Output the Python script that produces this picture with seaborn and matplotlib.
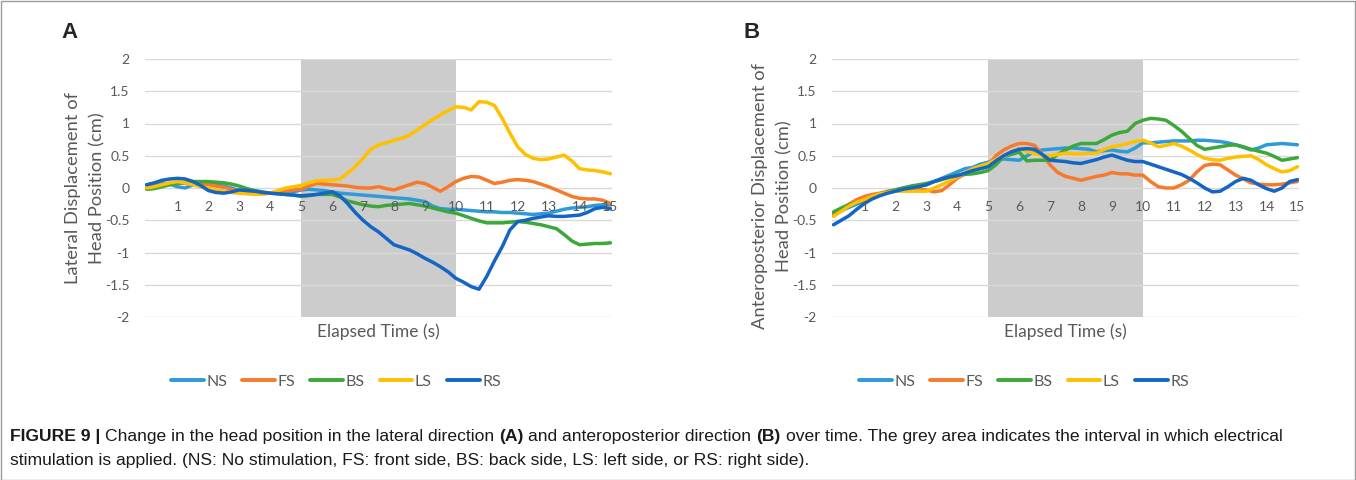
import numpy as np
import pandas as pd
import matplotlib
matplotlib.use("Agg")
import matplotlib.pyplot as plt
from matplotlib.lines import Line2D
from matplotlib.patches import Rectangle
import seaborn as sns

# ---------------- data (time grid every 0.25 s) ----------------
time_s = [i * 0.25 for i in range(61)]
conditions = ["NS", "FS", "BS", "LS", "RS"]

# Panel A: lateral displacement (cm)
NS_A = [0.05, 0.06, 0.08, 0.06, 0.02, 0.0, 0.05, 0.08, 0.08, 0.06, 0.03, 0.0,
        -0.04, -0.06, -0.07, -0.08, -0.08, -0.08, -0.08, -0.06, -0.03, -0.02, -0.03, -0.04,
        -0.06, -0.08, -0.09, -0.1, -0.11, -0.12, -0.13, -0.14, -0.15, -0.16, -0.17, -0.19,
        -0.21, -0.28, -0.32, -0.33, -0.33, -0.34, -0.35, -0.36, -0.37, -0.37, -0.38, -0.38,
        -0.39, -0.4, -0.41, -0.4, -0.39, -0.36, -0.33, -0.31, -0.3, -0.29, -0.27, -0.26, -0.26]
FS_A = [0.0, 0.02, 0.05, 0.07, 0.08, 0.07, 0.06, 0.05, 0.05, 0.03, 0.01, -0.02,
        -0.05, -0.07, -0.09, -0.09, -0.08, -0.06, -0.05, -0.03, -0.02, 0.03, 0.07, 0.06,
        0.05, 0.04, 0.03, 0.01, 0.0, 0.0, 0.02, -0.01, -0.03, 0.01, 0.05, 0.09,
        0.07, 0.01, -0.05, 0.02, 0.1, 0.15, 0.18, 0.17, 0.12, 0.07, 0.09, 0.12,
        0.13, 0.12, 0.1, 0.06, 0.02, -0.03, -0.08, -0.13, -0.16, -0.17, -0.17, -0.19, -0.24]
BS_A = [-0.02, -0.01, 0.02, 0.05, 0.07, 0.09, 0.1, 0.1, 0.1, 0.09, 0.08, 0.06,
        0.03, -0.01, -0.04, -0.06, -0.08, -0.09, -0.1, -0.11, -0.13, -0.12, -0.1, -0.1,
        -0.1, -0.14, -0.2, -0.23, -0.26, -0.28, -0.29, -0.27, -0.26, -0.25, -0.24, -0.26,
        -0.28, -0.31, -0.34, -0.37, -0.39, -0.43, -0.47, -0.51, -0.54, -0.54, -0.54, -0.53,
        -0.52, -0.53, -0.55, -0.57, -0.6, -0.63, -0.72, -0.82, -0.88, -0.87, -0.86, -0.86, -0.85]
LS_A = [0.0, 0.02, 0.05, 0.08, 0.1, 0.08, 0.05, 0.02, 0.0, -0.03, -0.05, -0.07,
        -0.08, -0.09, -0.1, -0.09, -0.08, -0.04, 0.0, 0.02, 0.04, 0.08, 0.11, 0.12,
        0.12, 0.14, 0.23, 0.33, 0.46, 0.6, 0.67, 0.7, 0.74, 0.77, 0.82, 0.9,
        0.98, 1.06, 1.13, 1.2, 1.26, 1.25, 1.21, 1.34, 1.33, 1.28, 1.08, 0.85,
        0.64, 0.52, 0.46, 0.44, 0.45, 0.48, 0.51, 0.42, 0.3, 0.28, 0.27, 0.25, 0.22]
RS_A = [0.05, 0.08, 0.12, 0.14, 0.15, 0.14, 0.1, 0.04, -0.04, -0.07, -0.08, -0.06,
        -0.03, -0.04, -0.05, -0.07, -0.08, -0.09, -0.1, -0.11, -0.12, -0.11, -0.1, -0.08,
        -0.06, -0.12, -0.24, -0.38, -0.5, -0.6, -0.68, -0.78, -0.88, -0.92, -0.96, -1.02,
        -1.09, -1.15, -1.22, -1.3, -1.4, -1.46, -1.53, -1.57, -1.37, -1.13, -0.91, -0.65,
        -0.52, -0.5, -0.47, -0.45, -0.43, -0.44, -0.44, -0.43, -0.42, -0.38, -0.32, -0.3, -0.32]

# Panel B: anteroposterior displacement (cm)
NS_B = [-0.4, -0.35, -0.3, -0.25, -0.2, -0.15, -0.1, -0.06, -0.03, 0.0, 0.02, 0.03,
        0.05, 0.1, 0.15, 0.2, 0.25, 0.3, 0.32, 0.37, 0.4, 0.43, 0.45, 0.44,
        0.43, 0.5, 0.56, 0.59, 0.6, 0.61, 0.62, 0.62, 0.61, 0.6, 0.56, 0.58,
        0.59, 0.57, 0.56, 0.62, 0.7, 0.7, 0.71, 0.72, 0.73, 0.73, 0.73, 0.74,
        0.74, 0.73, 0.72, 0.7, 0.67, 0.63, 0.59, 0.62, 0.67, 0.68, 0.69, 0.68, 0.67]
FS_B = [-0.42, -0.33, -0.25, -0.18, -0.13, -0.1, -0.08, -0.05, -0.03, -0.02, -0.02, -0.02,
        -0.03, -0.06, -0.04, 0.05, 0.15, 0.22, 0.28, 0.32, 0.36, 0.5, 0.59, 0.65,
        0.69, 0.69, 0.66, 0.52, 0.36, 0.24, 0.18, 0.15, 0.12, 0.15, 0.18, 0.2,
        0.24, 0.22, 0.22, 0.2, 0.2, 0.1, 0.02, 0.0, 0.0, 0.05, 0.12, 0.25,
        0.35, 0.37, 0.36, 0.28, 0.2, 0.14, 0.08, 0.06, 0.05, 0.05, 0.06, 0.08, 0.1]
BS_B = [-0.37, -0.31, -0.26, -0.22, -0.19, -0.14, -0.09, -0.06, -0.03, 0.0, 0.03, 0.05,
        0.07, 0.1, 0.13, 0.17, 0.2, 0.21, 0.22, 0.24, 0.27, 0.36, 0.49, 0.52,
        0.56, 0.42, 0.43, 0.43, 0.43, 0.52, 0.59, 0.65, 0.69, 0.69, 0.69, 0.75,
        0.82, 0.86, 0.88, 1.0, 1.05, 1.08, 1.07, 1.05, 0.97, 0.88, 0.77, 0.66,
        0.6, 0.62, 0.64, 0.66, 0.67, 0.64, 0.6, 0.57, 0.54, 0.49, 0.43, 0.45, 0.47]
LS_B = [-0.44, -0.36, -0.28, -0.22, -0.18, -0.13, -0.09, -0.07, -0.05, -0.05, -0.05, -0.05,
        -0.05, 0.0, 0.05, 0.11, 0.17, 0.24, 0.3, 0.34, 0.38, 0.44, 0.49, 0.56,
        0.61, 0.57, 0.53, 0.51, 0.5, 0.52, 0.54, 0.53, 0.53, 0.54, 0.54, 0.6,
        0.64, 0.66, 0.69, 0.72, 0.74, 0.7, 0.64, 0.66, 0.69, 0.65, 0.59, 0.52,
        0.46, 0.44, 0.43, 0.46, 0.48, 0.49, 0.5, 0.44, 0.36, 0.3, 0.25, 0.27, 0.33]
RS_B = [-0.57, -0.5, -0.43, -0.33, -0.24, -0.17, -0.12, -0.08, -0.05, -0.02, 0.0, 0.02,
        0.05, 0.1, 0.14, 0.17, 0.19, 0.23, 0.27, 0.3, 0.33, 0.42, 0.5, 0.56,
        0.6, 0.61, 0.6, 0.52, 0.43, 0.42, 0.41, 0.39, 0.38, 0.41, 0.44, 0.48,
        0.51, 0.47, 0.43, 0.41, 0.41, 0.37, 0.33, 0.29, 0.25, 0.21, 0.15, 0.08,
        0.0, -0.06, -0.05, 0.02, 0.1, 0.15, 0.12, 0.05, -0.01, -0.05, 0.0, 0.1, 0.13]

y_ticks = [-2, -1.5, -1, -0.5, 0, 0.5, 1, 1.5, 2]
y_tick_labels = ["-2", "-1.5", "-1", "-0.5", "0", "0.5", "1", "1.5", "2"]
x_tick_labels = [str(i) for i in range(1, 16)]
stim_interval = (5, 10)

palette = {"NS": "#2E9BD8", "FS": "#F67A2C", "BS": "#3DA83A", "LS": "#FFC000", "RS": "#1566C4"}

def long_df(series):
    rows = []
    for name, vals in zip(conditions, series):
        for t, v in zip(time_s, vals):
            rows.append((t, v, name))
    return pd.DataFrame(rows, columns=["time", "value", "cond"])

dfA = long_df([NS_A, FS_A, BS_A, LS_A, RS_A])
dfB = long_df([NS_B, FS_B, BS_B, LS_B, RS_B])

# ---------------- figure ----------------
sns.set_theme(style="white")
plt.rcParams["font.family"] = ["Lato", "DejaVu Sans"]
W, H = 1356, 480
fig = plt.figure(figsize=(W / 100, H / 100), dpi=100)
fig.patch.set_facecolor("white")

GREY_TXT = "#595959"

def px_axes(x0, y0, x1, y1):
    return fig.add_axes([x0 / W, 1 - y1 / H, (x1 - x0) / W, (y1 - y0) / H])

axA = px_axes(145, 59, 612, 317)
axB = px_axes(832, 59, 1299, 317)

for ax, df, ylabel in [(axA, dfA, "Lateral Displacement of\nHead Position (cm)"),
                       (axB, dfB, "Anteroposterior Displacement of\nHead Position (cm)")]:
    ax.set_facecolor("white")
    ax.axvspan(*stim_interval, color="#cccccc", lw=0, zorder=0.5)
    for yv in y_ticks:
        ax.axhline(yv, color="#d9d9d9", lw=1.0, zorder=1)
    sns.lineplot(data=df, x="time", y="value", hue="cond", hue_order=conditions,
                 palette=palette, linewidth=2.5, estimator=None, sort=False,
                 legend=False, ax=ax, zorder=3)
    ax.set_xlim(-0.05, 15.05)
    ax.set_ylim(-2, 2)
    ax.set_yticks(y_ticks)
    ax.set_yticklabels(y_tick_labels)
    ax.set_xticks([])
    ax.tick_params(axis="y", length=0, pad=11, labelsize=10, labelcolor=GREY_TXT)
    for s in ax.spines.values():
        s.set_visible(False)
    for i, lab in enumerate(x_tick_labels, start=1):
        ax.annotate(lab, (i, 0), xytext=(0, -13.5), textcoords="offset points",
                    ha="center", va="center", fontsize=10, color=GREY_TXT, zorder=4)
    ax.set_xlabel("")
    ax.set_ylabel(ylabel, fontsize=13.2, color=GREY_TXT, linespacing=1.65)
    ax.yaxis.set_label_coords(-0.085, 0.5)
    ax.text(0.5, -(332 - 317) / 258, "Elapsed Time (s)", transform=ax.transAxes,
            ha="center", va="center", fontsize=12.5, color=GREY_TXT)

axB.yaxis.set_label_coords(-0.085, 0.47)

# panel letters
fig.text(70 / W, 1 - 33 / H, "A", fontsize=16, fontweight="bold",
         family=["Liberation Sans", "DejaVu Sans"], ha="center", va="center")
fig.text(752 / W, 1 - 33 / H, "B", fontsize=16, fontweight="bold",
         family=["Liberation Sans", "DejaVu Sans"], ha="center", va="center")

# legends
handles = [Line2D([0], [0], color=palette[c], lw=2.8) for c in conditions]
for cx in (336, 1024):
    leg = fig.legend(handles, conditions, loc="center", bbox_to_anchor=(cx / W, 1 - 382 / H),
                     ncol=5, frameon=False, fontsize=11.5, handlelength=2.05,
                     handletextpad=0.15, columnspacing=0.95)
    for t in leg.get_texts():
        t.set_color(GREY_TXT)

# caption
cap_font = ["Liberation Sans Narrow", "Liberation Sans", "DejaVu Sans"]
CAP_FS = 12.6
renderer = fig.canvas.get_renderer()

def text_width(s, bold):
    t = fig.text(0, 0, s, fontsize=CAP_FS, family=cap_font,
                 fontweight="bold" if bold else "normal")
    w = t.get_window_extent(renderer=renderer).width
    t.remove()
    return w

space_w = text_width("a a", False) - text_width("aa", False)

lines = [
    [("FIGURE 9 |", True), ("Change in the head position in the lateral direction", False),
     ("(A)", True), ("and anteroposterior direction", False), ("(B)", True),
     ("over time. The grey area indicates the interval in which electrical", False)],
    [("stimulation is applied. (NS: No stimulation, FS: front side, BS: back side, LS: left side, or RS: right side).", False)],
]
for line, ypix in zip(lines, (437, 460)):
    xpix = 10
    for seg, bold in line:
        t = fig.text(xpix / W, 1 - ypix / H, seg, fontsize=CAP_FS, family=cap_font,
                     fontweight="bold" if bold else "normal", ha="left", va="center",
                     color="#1a1a1a")
        xpix += t.get_window_extent(renderer=renderer).width + space_w

# outer frame
fig.patches.append(Rectangle((0.5 / W, 0.5 / H), 1 - 1.5 / W, 1 - 1.5 / H,
                             transform=fig.transFigure, fill=False,
                             edgecolor="#9a9a9a", lw=1.0))

fig.savefig("out.png", dpi=100, facecolor="white")
